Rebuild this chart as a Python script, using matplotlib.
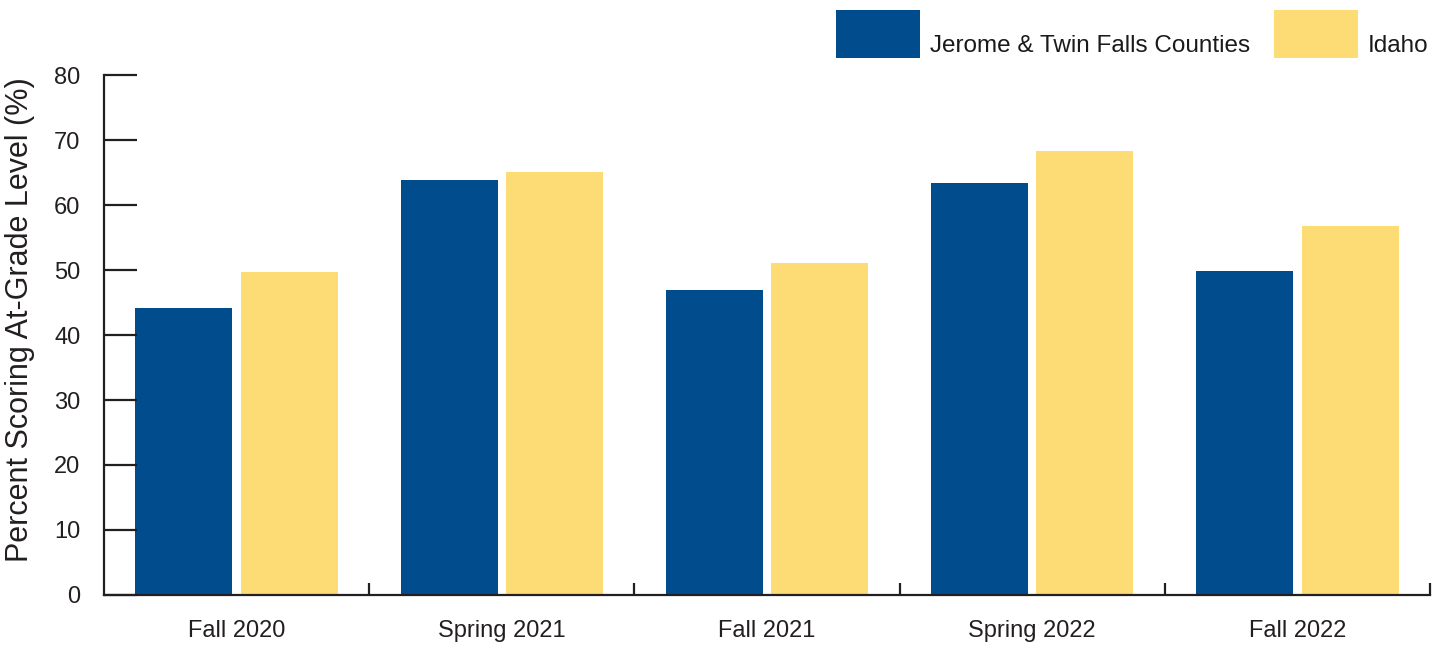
#!/usr/bin/env python3
"""
Percent scoring at-grade level: Jerome & Twin Falls Counties vs Idaho
"""

import numpy as np
import matplotlib.pyplot as plt
from matplotlib.patches import Rectangle
from matplotlib.legend_handler import HandlerPatch
from matplotlib.ticker import FixedLocator

# data
terms = ['Fall 2020', 'Spring 2021', 'Fall 2021', 'Spring 2022', 'Fall 2022']
jerome_twin = [44.2, 63.8, 46.9, 63.4, 49.8]
idaho = [49.7, 65.1, 51.1, 68.3, 56.8]
series_names = ['Jerome & Twin Falls Counties', 'Idaho']
y_ticks = [0, 10, 20, 30, 40, 50, 60, 70, 80]

BLUE = '#004c8c'
YELLOW = '#fddc76'
INK = '#231f20'


def tall_swatch(legend, orig_handle, xdescent, ydescent, width, height,
                fontsize):
    # big square-ish swatch sitting just below the text baseline
    return Rectangle((-xdescent, -0.25 * fontsize), width, 1.98 * fontsize)


def create_chart():
    plt.rcParams['font.family'] = ['Liberation Sans', 'DejaVu Sans']

    fig = plt.figure(figsize=(14.42, 6.47), dpi=100)
    ax = fig.add_axes([0.0721, 0.0804, 0.9196, 0.8036])

    x = np.arange(len(terms))
    width = 0.366
    offset = 0.1985
    b1 = ax.bar(x - offset, jerome_twin, width, color=BLUE)
    b2 = ax.bar(x + offset, idaho, width, color=YELLOW)

    ax.set_xlim(-0.5, len(terms) - 0.5)
    ax.set_ylim(0, 80)

    # spines
    for side in ['top', 'right']:
        ax.spines[side].set_visible(False)
    for side in ['left', 'bottom']:
        ax.spines[side].set_color(INK)
        ax.spines[side].set_linewidth(1.6)

    # y axis ticks
    ax.set_yticks(y_ticks)
    ax.tick_params(axis='y', direction='in', length=24, width=1.6, color=INK,
                   pad=17, labelsize=17, labelcolor=INK)

    # x axis: labels at centres, small ticks between categories
    ax.set_xticks(x)
    ax.set_xticklabels(terms)
    ax.xaxis.set_minor_locator(FixedLocator(np.arange(0.5, len(terms), 1.0)))
    ax.tick_params(axis='x', which='major', length=0, pad=18, labelsize=17,
                   labelcolor=INK)
    ax.tick_params(axis='x', which='minor', direction='in', length=9,
                   width=1.6, color=INK)

    ax.set_ylabel('Percent Scoring At-Grade Level (%)', fontsize=22,
                  color=INK)
    ax.yaxis.set_label_coords(-0.052, 0.529)

    h1, h2 = b1.patches[0], b2.patches[0]
    swatch = HandlerPatch(patch_func=tall_swatch)
    fig.legend(handles=[h1, h2], labels=series_names, loc='upper right',
               bbox_to_anchor=(0.9905, 0.968), ncol=2, frameon=False,
               fontsize=17.5, handlelength=3.46, handleheight=2.66,
               handletextpad=0.41, columnspacing=0.95, borderaxespad=0.0,
               borderpad=0.0, labelcolor='#1a1a1a',
               handler_map={h1: swatch, h2: swatch})

    fig.savefig('out.png', dpi=100)


def main():
    create_chart()


if __name__ == "__main__":
    main()
